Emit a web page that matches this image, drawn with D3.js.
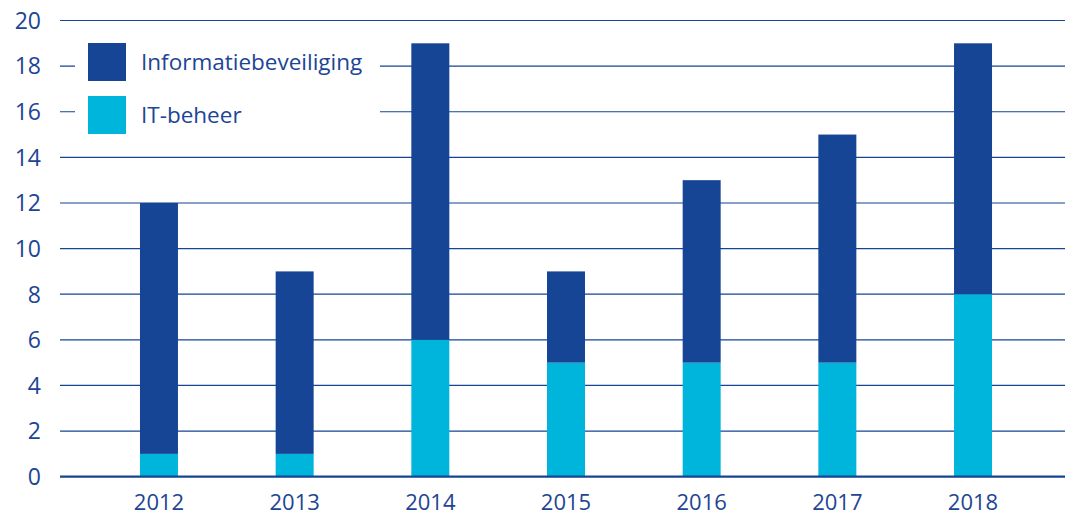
<!DOCTYPE html>
<html>
<head>
<meta charset="utf-8">
<script src="https://cdn.jsdelivr.net/npm/d3@7"></script>
<style>
  body { margin: 0; background: #fff; }
  svg text { font-family: "Open Sans", "Noto Sans", sans-serif; fill: #1d4594; }
</style>
</head>
<body>
<div id="chart"></div>
<script>
// years on the x axis
const years = ["2012", "2013", "2014", "2015", "2016", "2017", "2018"];
// series values (stacked: IT-beheer at bottom)
const itBeheer = [1, 1, 6, 5, 5, 5, 8];
const infoBeveiliging = [11, 8, 13, 4, 8, 10, 11];
const seriesNames = ["IT-beheer", "Informatiebeveiliging"];
const yTicks = [0, 2, 4, 6, 8, 10, 12, 14, 16, 18, 20];

const width = 1065;
const height = 518;
const darkBlue = "#154594";
const cyan = "#00b5dc";

const svg = d3.select("#chart").append("svg")
    .attr("width", width)
    .attr("height", height);

const x = d3.scaleBand()
    .domain(years)
    .range([64, 1068])
    .paddingInner(0.72)
    .paddingOuter(0.56);

const y = d3.scaleLinear()
    .domain([0, 20])
    .range([476.7, 20.5]);

// gridlines
svg.append("g")
  .selectAll("line")
  .data(yTicks.filter(d => d !== 0))
  .join("line")
    .attr("x1", 60)
    .attr("x2", width)
    .attr("y1", d => y(d))
    .attr("y2", d => y(d))
    .attr("stroke", darkBlue)
    .attr("stroke-width", 1.2);

// y tick labels
svg.append("g")
  .selectAll("text")
  .data(yTicks)
  .join("text")
    .attr("x", 41)
    .attr("y", d => y(d))
    .attr("dy", "0.36em")
    .attr("text-anchor", "end")
    .style("font-size", "23px")
    .text(d => d);

// stacked data
const table = years.map((yr, i) => ({year: yr, "IT-beheer": itBeheer[i], "Informatiebeveiliging": infoBeveiliging[i]}));
const stack = d3.stack().keys(seriesNames)(table);
const color = d3.scaleOrdinal().domain(seriesNames).range([cyan, darkBlue]);

svg.append("g")
  .selectAll("g")
  .data(stack)
  .join("g")
    .attr("fill", d => color(d.key))
  .selectAll("rect")
  .data(d => d)
  .join("rect")
    .attr("x", d => x(d.data.year))
    .attr("y", d => y(d[1]))
    .attr("width", x.bandwidth())
    .attr("height", d => y(d[0]) - y(d[1]));

// baseline
svg.append("line")
    .attr("x1", 60)
    .attr("x2", width)
    .attr("y1", y(0))
    .attr("y2", y(0))
    .attr("stroke", darkBlue)
    .attr("stroke-width", 2.2);

// x labels
svg.append("g")
  .selectAll("text")
  .data(years)
  .join("text")
    .attr("x", d => x(d) + x.bandwidth() / 2)
    .attr("y", 510)
    .attr("text-anchor", "middle")
    .style("font-size", "22px")
    .text(d => d);

// legend
const legend = svg.append("g");
legend.append("rect")
    .attr("x", 75)
    .attr("y", 32)
    .attr("width", 305)
    .attr("height", 112)
    .attr("fill", "#fff");

const legendItems = ["Informatiebeveiliging", "IT-beheer"];
const li = legend.selectAll("g")
  .data(legendItems)
  .join("g")
    .attr("transform", (d, i) => `translate(88, ${43 + i * 53})`);
li.append("rect")
    .attr("width", 38)
    .attr("height", 38)
    .attr("fill", d => color(d));
li.append("text")
    .attr("x", 53)
    .attr("y", 19)
    .attr("dy", "0.36em")
    .style("font-size", "22.5px")
    .text(d => d);
</script>
</body>
</html>
